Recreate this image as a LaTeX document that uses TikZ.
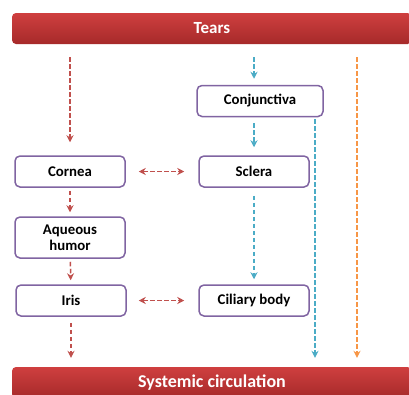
\documentclass[tikz,border=0pt]{standalone}
\usepackage{fontspec}
\setmainfont{Carlito}
\usetikzlibrary{arrows.meta,positioning}

\definecolor{bannertop}{HTML}{CF3F3F}
\definecolor{bannerbot}{HTML}{A62A2A}
\definecolor{flowred}{HTML}{C0504D}
\definecolor{flowblue}{HTML}{4BACC6}
\definecolor{floworange}{HTML}{F79646}
\definecolor{boxpurple}{HTML}{8064A2}

\tikzset{
  banner/.style={rounded corners=4, top color=bannertop, bottom color=bannerbot,
    minimum width=400, minimum height=31, text=white,
    font=\fontsize{17}{19}\selectfont\bfseries},
  tissue/.style={draw=boxpurple, line width=1.5, rounded corners=5, fill=white,
    minimum width=110, minimum height=31, align=center,
    font=\fontsize{14.8}{16.5}\selectfont\bfseries},
  flow/.style={dash pattern=on 4.5 off 2.5, line width=1.5, -{Stealth[length=7,width=7]}},
  twoway/.style={flow, {Stealth[length=7,width=7]}-{Stealth[length=7,width=7]}},
}

\begin{document}
\begin{tikzpicture}[x=1pt,y=-1pt]
    \clip (0,0) rectangle (409,394);
    \fill[white] (0,0) rectangle (409,394);

    \node [banner] (tears) at (212,28.5) {Tears};
    \node [banner, font=\fontsize{18}{20}\selectfont\bfseries] (sysc) at (212,382.5) {Systemic circulation};

    \node [tissue] (cornea) at (70,171.5) {Cornea};
    \node [tissue, minimum height=41] (aqueous) at (70,237.5) {Aqueous\\humor};
    \node [tissue] (iris) at (71,300.5) {Iris};
    \node [tissue, minimum width=126] (conj) at (260,101) {Conjunctiva};
    \node [tissue] (sclera) at (254,171.5) {Sclera};
    \node [tissue] (ciliary) at (254,300.5) {Ciliary body};

    \coordinate (bluetop) at (315,119);
    \coordinate (orangetop) at (357,57);

    % red route through the cornea
    \draw [flow, flowred, shorten <=13, shorten >=13] (tears.south -| cornea.north) -- (cornea.north);
    \draw [flow, flowred, shorten <=3, shorten >=4] (cornea) -- (aqueous);
    \draw [flow, flowred, shorten <=3, shorten >=4] (aqueous) -- (iris);
    \draw [flow, flowred, shorten <=6, shorten >=9] (iris.south) -- (iris.south |- sysc.north);

    % exchange between the two columns
    \draw [twoway, flowred, shorten <=13, shorten >=14] (cornea) -- (sclera);
    \draw [twoway, flowred, shorten <=12, shorten >=14] (iris) -- (ciliary);

    % blue route through the conjunctiva
    \draw [flow, flowblue, shorten <=13, shorten >=6] (tears.south -| sclera.north) -- (sclera.north |- conj.north);
    \draw [flow, flowblue, shorten <=6, shorten >=8] (sclera.north |- conj.south) -- (sclera.north);
    \draw [flow, flowblue, shorten <=8, shorten >=5] (sclera.south) -- (ciliary.north);
    \draw [flow, flowblue, shorten >=9] (bluetop) -- (bluetop |- sysc.north);

    % orange route straight to circulation
    \draw [flow, floworange, shorten >=9] (orangetop) -- (orangetop |- sysc.north);
\end{tikzpicture}
\end{document}
